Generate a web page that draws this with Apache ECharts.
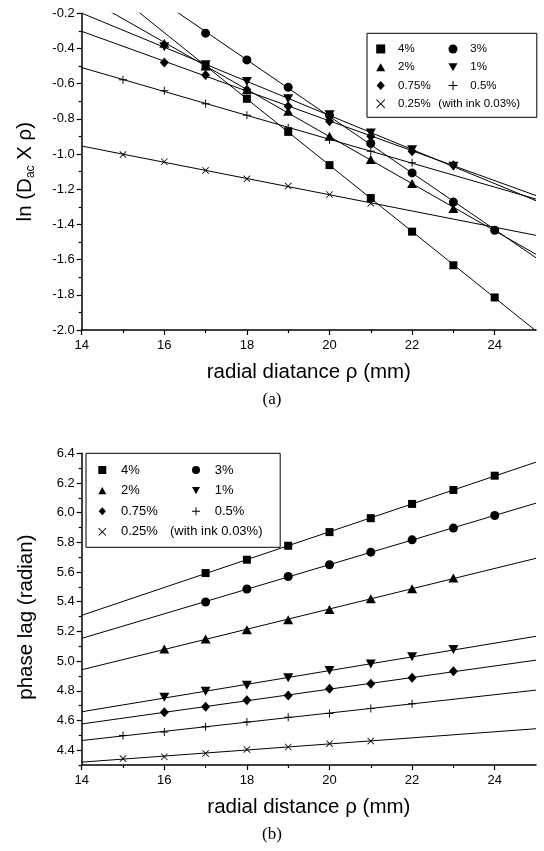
<!DOCTYPE html>
<html>
<head>
<meta charset="utf-8">
<script src="https://cdn.jsdelivr.net/npm/echarts@6/dist/echarts.min.js"></script>
<style>
  html, body { margin: 0; padding: 0; background: #fff; }
  #chart { width: 544px; height: 851px; }
</style>
</head>
<body>
<div id="chart"></div>
<script>
// Concentrations (legend order)
const concentrations = ['4%', '3%', '2%', '1%', '0.75%', '0.5%', '0.25%'];
// entries that sit in the right-hand legend column
const rightColumn = ['3%', '1%', '0.5%'];

// Radial distance of the measured points for each concentration (mm)
const rho_4   = [17, 18, 19, 20, 21, 22, 23, 24];
const rho_3   = [17, 18, 19, 20, 21, 22, 23, 24];
const rho_2   = [16, 17, 18, 19, 20, 21, 22, 23];
const rho_1   = [16, 17, 18, 19, 20, 21, 22, 23];
const rho_075 = [16, 17, 18, 19, 20, 21, 22, 23];
const rho_05  = [15, 16, 17, 18, 19, 20, 21, 22];
const rho_025 = [15, 16, 17, 18, 19, 20, 21];

// (a) ln(Dac x rho)
const lnD_4   = [-0.500, -0.686, -0.874, -1.063, -1.250, -1.441, -1.632, -1.815];
const lnD_3   = [-0.313, -0.465, -0.621, -0.780, -0.940, -1.107, -1.273, -1.433];
const lnD_2   = [-0.370, -0.500, -0.635, -0.757, -0.899, -1.031, -1.167, -1.310];
const lnD_1   = [-0.390, -0.493, -0.587, -0.686, -0.776, -0.880, -0.975, -1.070];
const lnD_075 = [-0.480, -0.550, -0.635, -0.729, -0.814, -0.899, -0.984, -1.063];
const lnD_05  = [-0.578, -0.640, -0.714, -0.780, -0.850, -0.918, -0.984, -1.050];
const lnD_025 = [-1.003, -1.044, -1.093, -1.141, -1.182, -1.230, -1.280];

// (b) phase lag (radian)
const phase_4   = [5.593, 5.683, 5.777, 5.869, 5.963, 6.059, 6.153, 6.249];
const phase_3   = [5.398, 5.486, 5.570, 5.649, 5.734, 5.817, 5.896, 5.981];
const phase_2   = [5.082, 5.149, 5.212, 5.279, 5.347, 5.420, 5.488, 5.560];
const phase_1   = [4.757, 4.797, 4.838, 4.887, 4.936, 4.981, 5.029, 5.078];
const phase_075 = [4.656, 4.692, 4.737, 4.768, 4.813, 4.847, 4.887, 4.932];
const phase_05  = [4.499, 4.522, 4.558, 4.589, 4.622, 4.647, 4.681, 4.713];
const phase_025 = [4.343, 4.356, 4.378, 4.405, 4.421, 4.444, 4.461];

// Axis tick labels
const xTickLabels = [14, 16, 18, 20, 22, 24];
const xMinorTicks = [15, 17, 19, 21, 23];
const phaseTickLabels = [4.4, 4.6, 4.8, 5.0, 5.2, 5.4, 5.6, 5.8, 6.0, 6.2, 6.4];
const phaseMinorTicks = [4.3, 4.5, 4.7, 4.9, 5.1, 5.3, 5.5, 5.7, 5.9, 6.1, 6.3];

const rhoSets = [rho_4, rho_3, rho_2, rho_1, rho_075, rho_05, rho_025];
const lnDSets = [lnD_4, lnD_3, lnD_2, lnD_1, lnD_075, lnD_05, lnD_025];
const phaseSets = [phase_4, phase_3, phase_2, phase_1, phase_075, phase_05, phase_025];

const FONT = 'Liberation Sans, Arial, sans-serif';
const INK = '#000';

// marker shapes (paths keep their aspect ratio in the legend too)
const SQUARE = 'path://M0,0H10V10H0Z';
const UP_TRI = 'path://M5,0L10,9H0Z';
const DOWN_TRI = 'path://M0,0H10L5,9Z';
const DIAMOND = 'path://M5,0L10,5.5L5,11L0,5.5Z';
const PLUS = 'path://M4.4,0H5.6V4.4H10V5.6H5.6V10H4.4V5.6H0V4.4H4.4Z';
const CROSS = 'path://M0.8,0L5,4.2L9.2,0L10,0.8L5.8,5L10,9.2L9.2,10L5,5.8L0.8,10L0,9.2L4.2,5L0,0.8Z';
const markers = [
  { symbol: SQUARE, size: 8 },
  { symbol: 'circle', size: 9 },
  { symbol: UP_TRI, size: [10, 9] },
  { symbol: DOWN_TRI, size: [10, 9] },
  { symbol: DIAMOND, size: [9, 10] },
  { symbol: PLUS, size: 8 },
  { symbol: CROSS, size: 7 }
];

// least-squares straight line through each data set
function fit(xs, ys) {
  const n = xs.length;
  let sx = 0, sy = 0, sxx = 0, sxy = 0;
  for (let i = 0; i < n; i++) {
    sx += xs[i]; sy += ys[i]; sxx += xs[i] * xs[i]; sxy += xs[i] * ys[i];
  }
  const b = (n * sxy - sx * sy) / (n * sxx - sx * sx);
  const a = (sy - b * sx) / n;
  return [[14, a + b * 14], [25, a + b * 25]];
}

function buildSeries(gridIndex, valueSets) {
  const out = [];
  valueSets.forEach((vals, i) => {
    out.push({
      type: 'line',
      xAxisIndex: gridIndex * 2,
      yAxisIndex: gridIndex * 2,
      data: fit(rhoSets[i], vals),
      showSymbol: false,
      symbol: 'none',
      silent: true,
      clip: true,
      lineStyle: { color: INK, width: 1 },
      z: 2
    });
  });
  valueSets.forEach((vals, i) => {
    out.push({
      type: 'scatter',
      name: concentrations[i],
      xAxisIndex: gridIndex * 2,
      yAxisIndex: gridIndex * 2,
      data: vals.map((v, k) => [rhoSets[i][k], v]),
      symbol: markers[i].symbol,
      symbolSize: markers[i].size,
      itemStyle: { color: INK, opacity: 1 },
      z: 3
    });
  });
  return out;
}

const tickLabelStyle = { color: INK, fontSize: 13, fontFamily: FONT };
const titleStyle = { color: INK, fontSize: 20.5, fontFamily: FONT };

function xAxes(gridIndex, name) {
  return [
    {
      gridIndex, type: 'value', position: 'bottom', min: 14, max: 25,
      axisLine: { show: true, onZero: false, lineStyle: { color: INK, width: 1.5 } },
      axisTick: { show: true, customValues: xTickLabels, length: 5, lineStyle: { color: INK, width: 1.2 } },
      axisLabel: Object.assign({ customValues: xTickLabels, margin: 9 }, tickLabelStyle),
      splitLine: { show: false },
      name, nameLocation: 'middle', nameGap: 32, nameTextStyle: titleStyle
    },
    {
      gridIndex, type: 'value', position: 'bottom', min: 14, max: 25,
      axisLine: { show: false, onZero: false },
      axisTick: { show: true, customValues: xMinorTicks, length: 3, lineStyle: { color: INK, width: 1.2 } },
      axisLabel: { show: false },
      splitLine: { show: false }
    }
  ];
}

// two-column boxed legend
function legend(cfg) {
  const tok = (w) => ({ width: w, fontSize: cfg.fontSize, fontFamily: FONT, color: INK, lineHeight: cfg.lineHeight });
  return {
    orient: 'horizontal',
    left: cfg.left, top: cfg.top, width: cfg.width,
    itemWidth: cfg.iconSize, itemHeight: cfg.iconSize, itemGap: 0,
    symbolKeepAspect: true,
    padding: cfg.padding,
    borderColor: INK, borderWidth: 1,
    selectedMode: false,
    data: concentrations,
    formatter: name => {
      if (name === '0.25%') return `{g| }{a|${name}}{w|(with ink 0.03%)}`;
      return rightColumn.indexOf(name) >= 0 ? `{g| }{r|${name}}` : `{g| }{n|${name}}`;
    },
    textStyle: {
      color: INK, fontSize: cfg.fontSize, fontFamily: FONT, lineHeight: cfg.lineHeight,
      rich: {
        g: tok(cfg.textShift),
        n: tok(cfg.colWidth),
        r: tok(40),
        a: tok(cfg.firstWidth),
        w: { fontSize: cfg.fontSize, fontFamily: FONT, color: INK, lineHeight: cfg.lineHeight }
      }
    }
  };
}

const option = {
  animation: false,
  backgroundColor: '#fff',
  grid: [
    { left: 81.7, top: 13.3, width: 454.3, height: 316.7 },
    { left: 81.7, top: 453.3, width: 454.3, height: 311.7 }
  ],
  xAxis: [].concat(xAxes(0, 'radial diatance ρ (mm)'), xAxes(1, 'radial distance ρ (mm)')),
  yAxis: [
    {
      gridIndex: 0, type: 'value', position: 'left', min: -2, max: -0.2, interval: 0.2,
      axisLine: { show: true, onZero: false, lineStyle: { color: INK, width: 1.5 } },
      axisTick: { show: true, length: 5, lineStyle: { color: INK, width: 1.2 } },
      minorTick: { show: true, splitNumber: 2, length: 3, lineStyle: { color: INK, width: 1.2 } },
      axisLabel: Object.assign({ margin: 7, formatter: v => v.toFixed(1) }, tickLabelStyle),
      splitLine: { show: false },
      name: 'ln (D{sub|ac} X ρ)', nameLocation: 'middle', nameRotate: 90, nameGap: 45,
      nameTextStyle: Object.assign({
        rich: { sub: { fontSize: 12, fontFamily: FONT, color: INK, verticalAlign: 'bottom', padding: [11, 0, 0, 0] } }
      }, titleStyle)
    },
    {
      gridIndex: 0, type: 'value', position: 'left', min: -2, max: -0.2,
      show: false
    },
    {
      gridIndex: 1, type: 'value', position: 'left', min: 4.3, max: 6.4,
      axisLine: { show: true, onZero: false, lineStyle: { color: INK, width: 1.5 } },
      axisTick: { show: true, customValues: phaseTickLabels, length: 5, lineStyle: { color: INK, width: 1.2 } },
      axisLabel: Object.assign({ customValues: phaseTickLabels, margin: 7, formatter: v => v.toFixed(1) }, tickLabelStyle),
      splitLine: { show: false },
      name: 'phase lag (radian)', nameLocation: 'middle', nameRotate: 90, nameGap: 45,
      nameTextStyle: Object.assign({ padding: [0, 16, 0, 0] }, titleStyle)
    },
    {
      gridIndex: 1, type: 'value', position: 'left', min: 4.3, max: 6.4,
      axisLine: { show: false, onZero: false },
      axisTick: { show: true, customValues: phaseMinorTicks, length: 3, lineStyle: { color: INK, width: 1.2 } },
      axisLabel: { show: false },
      splitLine: { show: false }
    }
  ],
  legend: [
    legend({ left: 367, top: 33.3, width: 150, iconSize: 9,
      padding: [6.5, 16.7, 4.3, 9.2], fontSize: 11.5, lineHeight: 18.3,
      textShift: 7.8, colWidth: 50.5, firstWidth: 40.3 }),
    legend({ left: 86, top: 453.3, width: 170, iconSize: 8,
      padding: [6.4, 17.7, 5.2, 12.3], fontSize: 13, lineHeight: 20.6,
      textShift: 9.7, colWidth: 71, firstWidth: 49 })
  ],
  graphic: [
    { type: 'text', left: 'center', top: 391, style: { text: '(a)', fontSize: 17, fontFamily: 'Liberation Serif, Times New Roman, serif', fill: INK } },
    { type: 'text', left: 'center', top: 826, style: { text: '(b)', fontSize: 17, fontFamily: 'Liberation Serif, Times New Roman, serif', fill: INK } }
  ],
  series: [].concat(buildSeries(0, lnDSets), buildSeries(1, phaseSets))
};

const chart = echarts.init(document.getElementById('chart'), null, { renderer: 'canvas' });
chart.setOption(option);
</script>
</body>
</html>
